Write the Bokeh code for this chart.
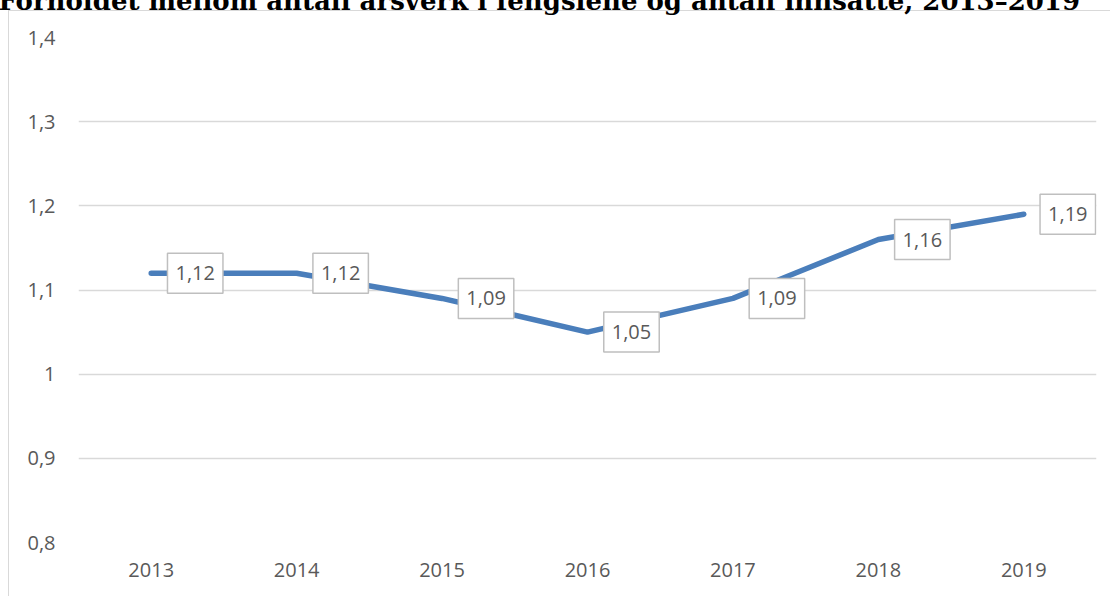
from bokeh.plotting import figure
from bokeh.models import ColumnDataSource, FixedTicker, Range1d
from bokeh.core.properties import value
from bokeh.embed import file_html
from bokeh.resources import INLINE

# ---- data ----
years = ["2013", "2014", "2015", "2016", "2017", "2018", "2019"]
ratios = [1.12, 1.12, 1.09, 1.05, 1.09, 1.16, 1.19]
ratio_labels = ["1,12", "1,12", "1,09", "1,05", "1,09", "1,16", "1,19"]
y_ticks = [0.8, 0.9, 1.0, 1.1, 1.2, 1.3, 1.4]
y_tick_labels = ["0,8", "0,9", "1", "1,1", "1,2", "1,3", "1,4"]
title_text = "Forholdet mellom antall årsverk i fengslene og antall innsatte, 2013–2019"

src = ColumnDataSource(dict(year=years, val=ratios, lab=ratio_labels))

BORDER = "#d9d9d9"
SHIFT = 39            # the original is cropped: its title sits partly above the window
W, H = 1110, 596 + SHIFT
p = figure(x_range=years, y_range=Range1d(0.8, 1.4), width=W, height=H,
           output_backend="svg", toolbar_location=None,
           min_border_left=78, min_border_right=14, min_border_top=0, min_border_bottom=54,
           styles={"margin-top": f"-{SHIFT}px",
                   "background": (
                       f"linear-gradient({BORDER},{BORDER}) 8px {10 + SHIFT}px / 1px 100% no-repeat, "
                       f"linear-gradient({BORDER},{BORDER}) 8px {10 + SHIFT}px / 100% 1px no-repeat, white")})
p.outline_line_color = None
p.background_fill_color = None
p.border_fill_color = None

GRAY = "#595959"
FONT = "Open Sans"

p.title.text = title_text
p.title.text_font = "DejaVu Serif"
p.title.text_font_style = "bold"
p.title.text_font_size = "26px"
p.title.text_color = "black"
p.title.align = "left"
p.title.offset = -80
p.title.standoff = 44

p.xgrid.grid_line_color = None
p.ygrid.grid_line_color = BORDER
p.ygrid.grid_line_width = 1.3
p.yaxis.ticker = FixedTicker(ticks=y_ticks)
p.yaxis.major_label_overrides = {t: l for t, l in zip(y_ticks, y_tick_labels)}

for ax in (p.xaxis, p.yaxis):
    ax.axis_line_color = None
    ax.major_tick_line_color = None
    ax.minor_tick_line_color = None
    ax.major_tick_out = 0
    ax.major_tick_in = 0
    ax.major_label_text_font = FONT
    ax.major_label_text_font_size = "20px"
    ax.major_label_text_color = GRAY
p.yaxis.major_label_standoff = 23
p.xaxis.major_label_standoff = 20

p.line(x="year", y="val", source=src, line_color="#4a7ebb", line_width=5.5,
       line_cap="round", line_join="round")

p.text(x="year", y="val", text="lab", source=src, x_offset=44,
       text_align="center", text_baseline="middle",
       text_font=value(FONT), text_font_size="20px", text_color=GRAY,
       background_fill_color="white", border_line_color="#bfbfbf",
       border_line_width=1.5, padding=(8, 13))

open("out.html", "w").write(file_html(p, INLINE))
